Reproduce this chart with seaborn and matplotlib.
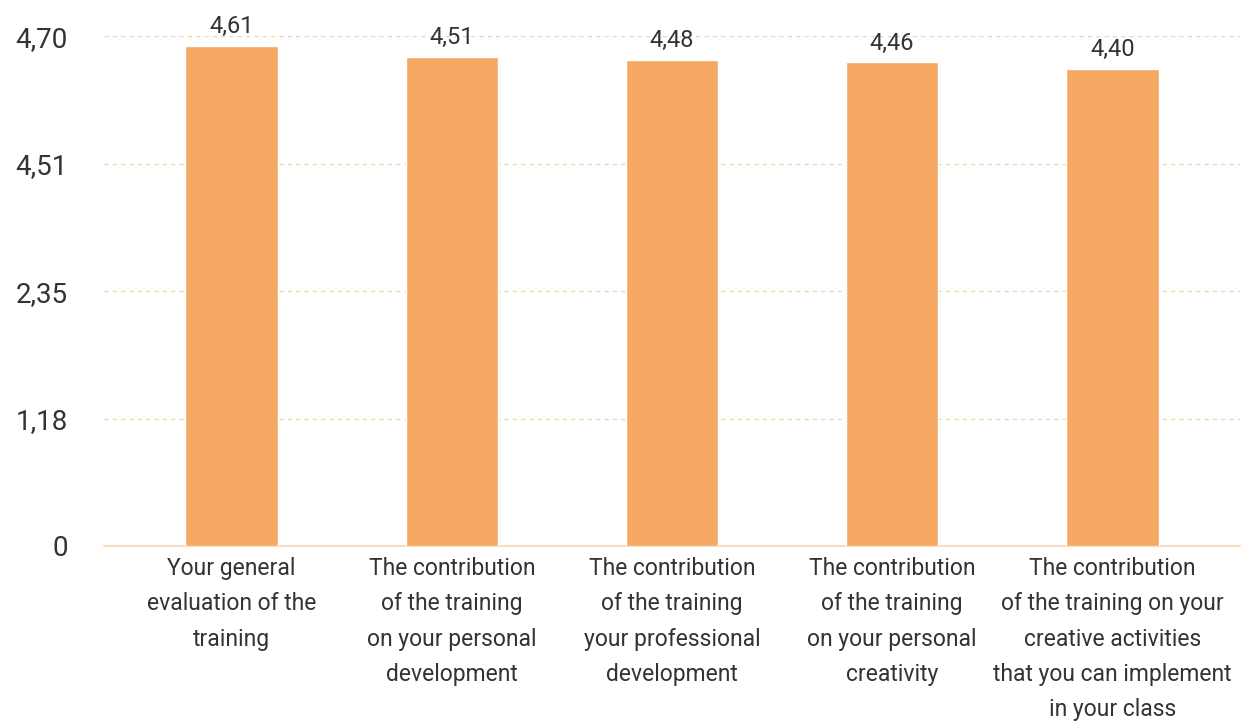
import matplotlib
matplotlib.use("Agg")
import matplotlib.pyplot as plt
import seaborn as sns
import pandas as pd

# chart data
categories = [
    "Your general\nevaluation of the\ntraining",
    "The contribution\nof the training\non your personal\ndevelopment",
    "The contribution\nof the training\nyour professional\ndevelopment",
    "The contribution\nof the training\non your personal\ncreativity",
    "The contribution\nof the training on your\ncreative activities\nthat you can implement\nin your class",
]
scores = [4.61, 4.51, 4.48, 4.46, 4.40]
score_labels = ["4,61", "4,51", "4,48", "4,46", "4,40"]
tick_values = [0, 1.175, 2.35, 3.525, 4.70]
tick_labels = ["0", "1,18", "2,35", "4,51", "4,70"]

df = pd.DataFrame({"item": categories, "score": scores})

sns.set_theme(style="white")
plt.rcParams['font.family'] = ['Roboto', 'DejaVu Sans']

bar_color = "#F5A962"
grid_color = "#F9D3AE"
text_color = "#333333"

fig = plt.figure(figsize=(12.45, 7.22), dpi=100)
ax = fig.add_axes([0.0835, 0.2438, 0.9125, 0.7062])

sns.barplot(data=df, x="item", y="score", color=bar_color, width=0.42,
            saturation=1, ax=ax, zorder=3)

ax.set_ylim(0, 4.70)
ax.set_xlim(-0.58, 4.58)
ax.set_yticks(tick_values)
ax.set_yticklabels(tick_labels, fontsize=20, color=text_color)
ax.tick_params(axis="y", length=0, pad=26)
ax.tick_params(axis="x", length=0, pad=8)
ax.set_xticks(range(len(categories)))
ax.set_xticklabels(categories, fontsize=16.5, color=text_color, linespacing=1.68,
                   va="top")
ax.set_xlabel("")
ax.set_ylabel("")

for t in tick_values[1:]:
    ax.axhline(t, color=grid_color, lw=1, ls=(0, (3, 3)), zorder=1)

for s in ["top", "right", "left"]:
    ax.spines[s].set_visible(False)
ax.spines["bottom"].set_color(grid_color)
ax.spines["bottom"].set_linewidth(1.2)

for i, (v, lab) in enumerate(zip(scores, score_labels)):
    ax.text(i, v + 0.07, lab, ha="center", va="bottom", fontsize=17,
            color=text_color, clip_on=False)

fig.savefig("out.png", dpi=100)
